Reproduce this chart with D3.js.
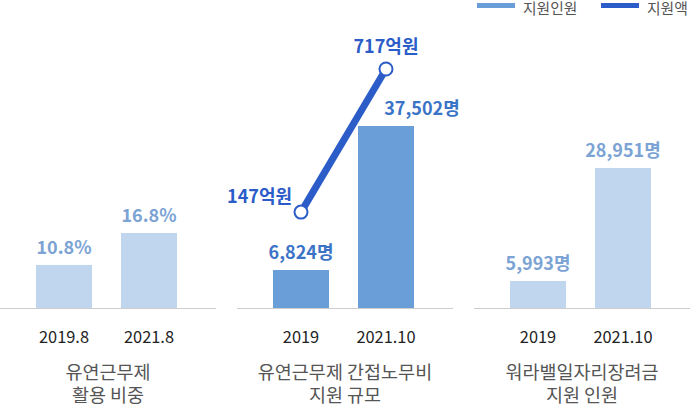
<html>
<head>
<meta charset="utf-8">
<style>
body {
  margin: 0;
  background: #ffffff;
  font-family: "Noto Sans CJK KR", "Noto Sans", sans-serif;
}
svg {
  display: block;
}
.value {
  font-weight: bold;
  font-size: 18px;
}
.tick {
  font-size: 16.4px;
  fill: #222222;
}
.title {
  font-size: 18.5px;
  fill: #555555;
}
.legend {
  font-size: 14.8px;
  fill: #555555;
}
</style>
</head>
<body>
<script src="https://cdnjs.cloudflare.com/ajax/libs/d3/7.8.5/d3.min.js"></script>
<script>
// panel 1: 유연근무제 활용 비중
var ratioDates = ["2019.8", "2021.8"]
var ratioValues = [10.8, 16.8]

// panel 2: 간접노무비 지원
var indirectDates = ["2019", "2021.10"]
var indirectPeople = [6824, 37502]
var indirectBudget = [147, 717]

// panel 3: 워라밸일자리장려금
var balanceDates = ["2019", "2021.10"]
var balancePeople = [5993, 28951]

var panelTitles = [
  ["유연근무제", "활용 비중"],
  ["유연근무제 간접노무비", "지원 규모"],
  ["워라밸일자리장려금", "지원 인원"]
]
var legendLabels = ["지원인원", "지원액"]

var width = 690,
    height = 408,
    baseline = 308,
    panelWidth = 216,
    barWidth = 56;

var lightBlue = "#bfd6ee",
    lightText = "#7ba3d4",
    midBlue = "#6a9ed8",
    midText = "#3b74c6",
    darkBlue = "#2b5cc8";

var svg = d3.select("body")
  .append("svg")
  .attr("width", width)
  .attr("height", height)

var panelX = d3.scalePoint().domain([0, 1, 2]).range([0, 474])

function makeTranslate(x, y) {
  return "translate(" + x + " " + y + ")"
}

function drawPanel(i, cats, values, y, barColor, textColor, fmt) {
  var g = svg.append("g").attr("transform", makeTranslate(panelX(i), 0))
  var x = d3.scalePoint().domain(cats).range([64, 149])

  g.append("line")
    .attr("x1", 0)
    .attr("x2", panelWidth)
    .attr("y1", baseline + 0.5)
    .attr("y2", baseline + 0.5)
    .attr("stroke", "#cccccc")

  g.selectAll("rect.bar")
    .data(values)
    .enter().append("rect")
    .attr("class", "bar")
    .attr("x", function(d, j) { return x(cats[j]) - barWidth / 2 })
    .attr("y", function(d) { return y(d) })
    .attr("width", barWidth)
    .attr("height", function(d) { return baseline - y(d) })
    .attr("fill", barColor)

  var labels = g.selectAll("text.value")
    .data(values)
    .enter().append("text")
    .attr("class", "value")
    .attr("x", function(d, j) { return x(cats[j]) })
    .attr("y", function(d) { return y(d) - 11 })
    .attr("text-anchor", "middle")
    .attr("fill", textColor)
    .text(fmt)

  g.selectAll("text.tick")
    .data(cats)
    .enter().append("text")
    .attr("class", "tick")
    .attr("x", function(d) { return x(d) })
    .attr("y", 343)
    .attr("text-anchor", "middle")
    .text(function(d) { return d })

  g.selectAll("text.title")
    .data(panelTitles[i])
    .enter().append("text")
    .attr("class", "title")
    .attr("x", 108)
    .attr("y", function(d, j) { return 379 + j * 23 })
    .attr("text-anchor", "middle")
    .text(function(d) { return d })

  return { g: g, x: x, labels: labels }
}

var fmtPeople = function(d) { return d3.format(",")(d) + "명" }

var y1 = d3.scaleLinear().domain([2.7, 16.8]).range([baseline, 233])
drawPanel(0, ratioDates, ratioValues, y1, lightBlue, lightText, function(d) { return d + "%" })

var y2 = d3.scaleLinear().domain([-1271, 37502]).range([baseline, 126])
var p2 = drawPanel(1, indirectDates, indirectPeople, y2, midBlue, midText, fmtPeople)
p2.labels.attr("dx", function(d, j) { return j == 1 ? 36 : 0 })

// budget line
var yBudget = d3.scaleLinear().domain([0, 717]).range([249, 69])
var line = d3.line()
  .x(function(d, j) { return p2.x(indirectDates[j]) })
  .y(function(d) { return yBudget(d) })

p2.g.append("path")
  .datum(indirectBudget)
  .attr("d", line)
  .attr("fill", "none")
  .attr("stroke", darkBlue)
  .attr("stroke-width", 7)

p2.g.selectAll("circle")
  .data(indirectBudget)
  .enter().append("circle")
  .attr("cx", function(d, j) { return p2.x(indirectDates[j]) })
  .attr("cy", function(d) { return yBudget(d) })
  .attr("r", 6.5)
  .attr("fill", "white")
  .attr("stroke", darkBlue)
  .attr("stroke-width", 2)

p2.g.selectAll("text.budget")
  .data(indirectBudget)
  .enter().append("text")
  .attr("class", "value budget")
  .attr("x", function(d, j) { return p2.x(indirectDates[j]) + (j == 0 ? -9 : 0) })
  .attr("y", function(d, j) { return yBudget(d) + (j == 0 ? -9 : -16) })
  .attr("text-anchor", function(d, j) { return j == 0 ? "end" : "middle" })
  .attr("fill", darkBlue)
  .text(function(d) { return d + "억원" })

var y3 = d3.scaleLinear().domain([505, 28951]).range([baseline, 168])
drawPanel(2, balanceDates, balancePeople, y3, lightBlue, lightText, fmtPeople)

// legend
var legend = svg.selectAll("g.legend")
  .data(legendLabels)
  .enter().append("g")
  .attr("class", "legend")
  .attr("transform", function(d, i) { return makeTranslate(477 + i * 124, 0) })

legend.append("rect")
  .attr("x", 0)
  .attr("y", 3)
  .attr("width", 38)
  .attr("height", 5)
  .attr("fill", function(d, i) { return i == 0 ? midBlue : darkBlue })

legend.append("text")
  .attr("class", "legend")
  .attr("x", 46)
  .attr("y", 14)
  .text(function(d) { return d })
</script>
</body>
</html>
